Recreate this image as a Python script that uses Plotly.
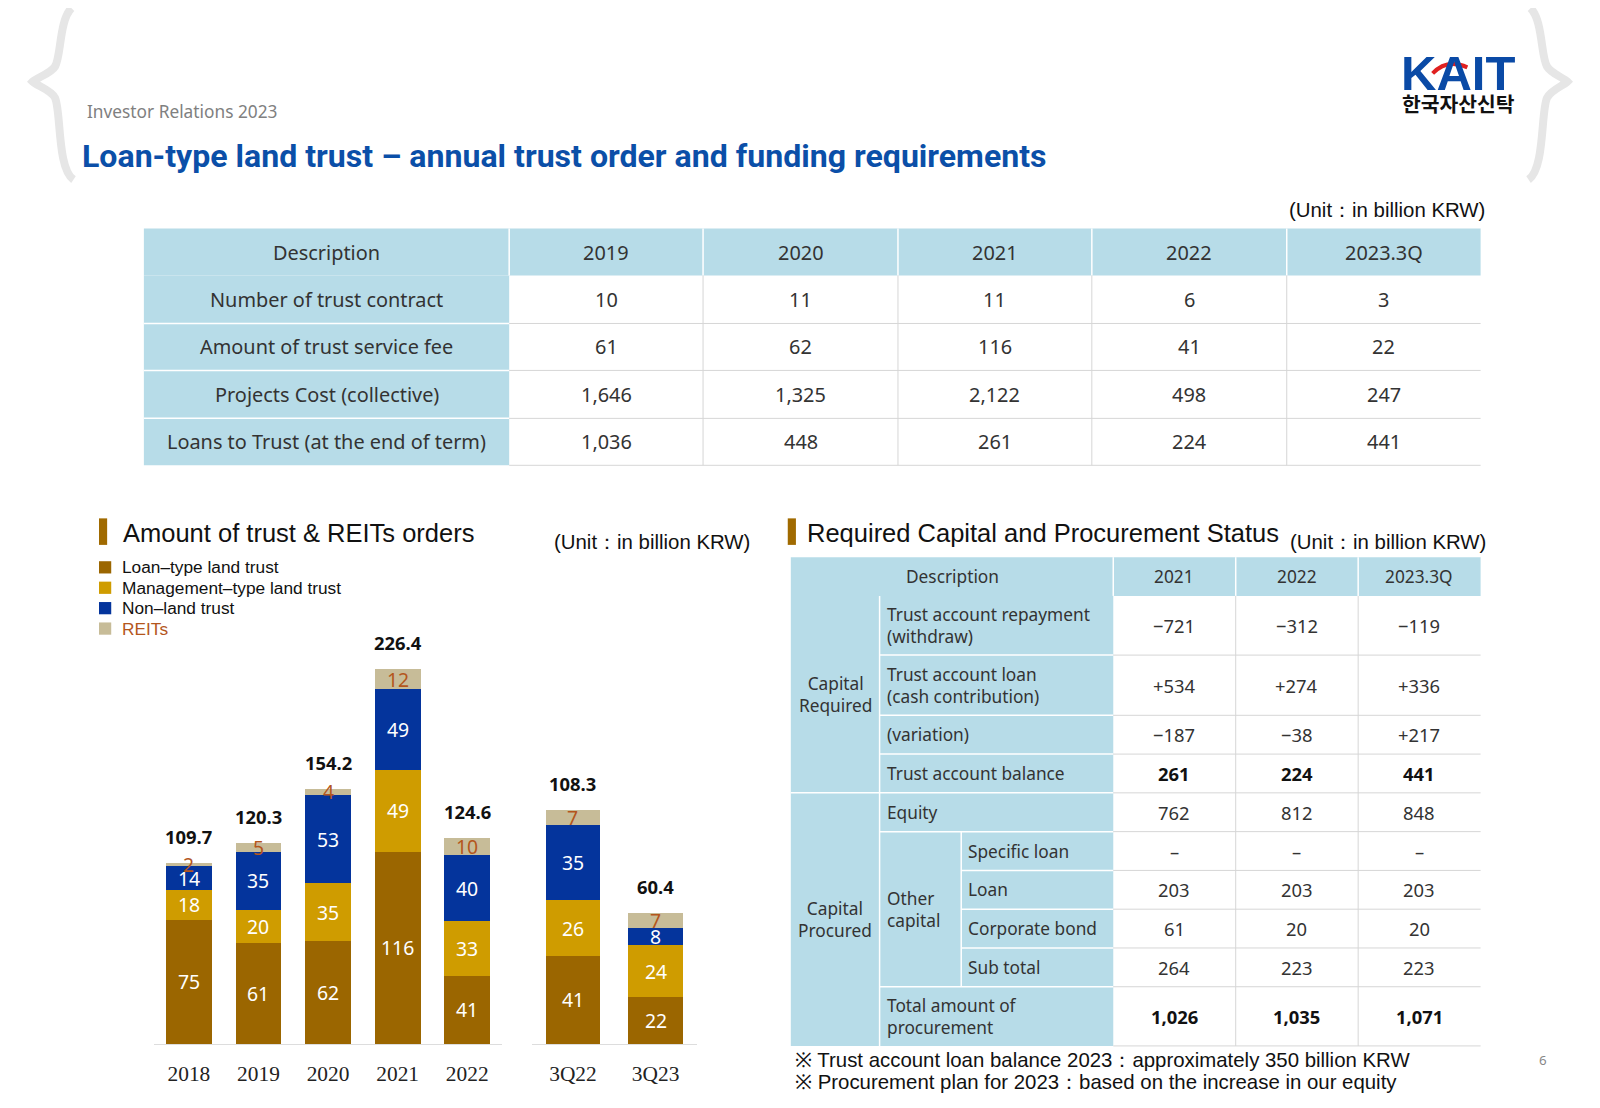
import plotly.graph_objects as go

W, H = 1584, 1092
S = 1600 / 1568.0
def X(px): return (px * S - 8) / W
def Y(py): return 1 - (py * S - 8) / H
def fs(v): return round(v * S, 1)

# ---------------- data ----------------
top_header = ["Description", "2019", "2020", "2021", "2022", "2023.3Q"]
top_rows = ["Number of trust contract", "Amount of trust service fee",
            "Projects Cost (collective)", "Loans to Trust (at the end of term)"]
top_2019 = ["10", "61", "1,646", "1,036"]
top_2020 = ["11", "62", "1,325", "448"]
top_2021 = ["11", "116", "2,122", "261"]
top_2022 = ["6", "41", "498", "224"]
top_2023 = ["3", "22", "247", "441"]

years = ["2018", "2019", "2020", "2021", "2022"]
loan_y = [75, 61, 62, 116, 41]
mgmt_y = [18, 20, 35, 49, 33]
nonland_y = [14, 35, 53, 49, 40]
reits_y = [2, 5, 4, 12, 10]
total_y = ["109.7", "120.3", "154.2", "226.4", "124.6"]

quarters = ["3Q22", "3Q23"]
loan_q = [41, 22]
mgmt_q = [26, 24]
nonland_q = [35, 8]
reits_q = [7, 7]
total_q = ["108.3", "60.4"]

legend_names = ["Loan–type land trust", "Management–type land trust", "Non–land trust", "REITs"]

cap_years = ["2021", "2022", "2023.3Q"]
cap_repay = ["−721", "−312", "−119"]
cap_loan = ["+534", "+274", "+336"]
cap_var = ["−187", "−38", "+217"]
cap_bal = ["261", "224", "441"]
cap_equity = ["762", "812", "848"]
cap_specific = ["–", "–", "–"]
cap_oloan = ["203", "203", "203"]
cap_bond = ["61", "20", "20"]
cap_sub = ["264", "223", "223"]
cap_total = ["1,026", "1,035", "1,071"]

C_LOAN, C_MGMT, C_NON, C_REIT = "#9b6600", "#cf9c00", "#04349c", "#c7bc98"
C_REIT_TXT = "#b4561c"
BLUE_CELL = "#b7dce8"
TXT = "#333333"
GRID = "#d6d6d6"
ARIAL = "Liberation Sans"

fig = go.Figure()
shapes = []
ann = []

def rect(x0, y0, x1, y1, fill):
    shapes.append(dict(type="rect", xref="paper", yref="paper", x0=X(x0), x1=X(x1), y0=Y(y1), y1=Y(y0),
                       fillcolor=fill, line=dict(width=0), layer="below"))
def line(x0, y0, x1, y1, col, w=1):
    shapes.append(dict(type="line", xref="paper", yref="paper", x0=X(x0), x1=X(x1), y0=Y(y0), y1=Y(y1),
                       line=dict(color=col, width=w)))
def txt(xp, yp, s, size=17, color=TXT, xanchor="center", family="Noto Sans", bold=False, yanchor="middle"):
    ann.append(dict(x=X(xp), y=Y(yp), xref="paper", yref="paper", text="<b>%s</b>" % s if bold else s,
                    showarrow=False, xanchor=xanchor, yanchor=yanchor,
                    align="left" if xanchor == "left" else "center",
                    font=dict(family=family, size=fs(size), color=color)))

# ---------------- top table ----------------
tx = [141, 499, 689, 880, 1070, 1261, 1451]
ty = [224, 270, 317, 363, 410, 456]
rect(tx[0], ty[0], tx[6], ty[1], BLUE_CELL)
rect(tx[0], ty[1], tx[1], ty[5], BLUE_CELL)
for c in range(1, 6):
    line(tx[c], ty[0], tx[c], ty[1], "white", 1.5)
for c in range(2, 6):
    line(tx[c], ty[1], tx[c], ty[5], GRID)
for r in range(2, 5):
    line(tx[0], ty[r], tx[1], ty[r], "white", 1.5)
for r in range(2, 6):
    line(tx[1], ty[r], tx[6], ty[r], GRID)
top_cols = [top_2019, top_2020, top_2021, top_2022, top_2023]
for c, h in enumerate(top_header):
    txt((tx[c] + tx[c + 1]) / 2, (ty[0] + ty[1]) / 2, h, 19.5)
for r, lab in enumerate(top_rows):
    ym = (ty[r + 1] + ty[r + 2]) / 2
    txt((tx[0] + tx[1]) / 2, ym, lab, 19.5)
    for c, col in enumerate(top_cols):
        txt((tx[c + 1] + tx[c + 2]) / 2, ym, col[r], 19.5)

# ---------------- bars ----------------
def add_bars(cats, vals, color, xa, ya):
    fig.add_trace(go.Bar(x=cats, y=vals, marker=dict(color=color, line=dict(width=0)),
                         xaxis=xa, yaxis=ya, showlegend=False, hoverinfo="skip"))

colors = [C_LOAN, C_MGMT, C_NON, C_REIT]
for col, vy in zip(colors, [loan_y, mgmt_y, nonland_y, reits_y]):
    add_bars(years, vy, col, "x", "y")
for col, vq in zip(colors, [loan_q, mgmt_q, nonland_q, reits_q]):
    add_bars(quarters, vq, col, "x2", "y2")

def seg_labels(cats, stacks, totals, xr, yr):
    for i, c in enumerate(cats):
        base = 0
        for k, v in enumerate(stacks):
            val = v[i]
            col = C_REIT_TXT if k == 3 else "white"
            ann.append(dict(x=i, y=base + val / 2, xref=xr, yref=yr, text=str(val), showarrow=False,
                            font=dict(family="Noto Sans", size=fs(19), color=col)))
            base += val
        ann.append(dict(x=i, y=base, xref=xr, yref=yr, text="<b>%s</b>" % totals[i], showarrow=False,
                        yanchor="bottom", yshift=12, font=dict(family="Noto Sans", size=fs(18), color="#111")))
seg_labels(years, [loan_y, mgmt_y, nonland_y, reits_y], total_y, "x", "y")
seg_labels(quarters, [loan_q, mgmt_q, nonland_q, reits_q], total_q, "x2", "y2")

# manual legend
for k, (nm, col) in enumerate(zip(legend_names, colors)):
    yc = 556 + 20 * k
    rect(97, yc - 6, 109, yc + 6, col)
    txt(118, yc, nm, 17, color=C_REIT_TXT if k == 3 else "#111", xanchor="left", family=ARIAL)

tickfont = dict(family="Liberation Serif", size=fs(21), color="#222")
fig.update_layout(
    barmode="stack", bargap=0.34,
    xaxis=dict(domain=[X(151), X(492)], anchor="y", type="category", range=[-0.5, len(years) - 0.5],
               showline=True, linecolor="#dddddd", linewidth=1, tickfont=tickfont, ticks="",
               ticklabelstandoff=10, fixedrange=True),
    yaxis=dict(domain=[Y(1023), Y(540)], range=[0, 483 / 1.625], visible=False, fixedrange=True),
    xaxis2=dict(domain=[X(521), X(683)], anchor="y2", type="category", range=[-0.5, len(quarters) - 0.5],
                showline=True, linecolor="#dddddd", linewidth=1, tickfont=tickfont, ticks="",
                ticklabelstandoff=10, fixedrange=True),
    yaxis2=dict(domain=[Y(1023), Y(540)], range=[0, 483 / 2.1], visible=False, fixedrange=True),
    showlegend=False,
)

# ---------------- right table (merged cells) ----------------
cx = [775, 862, 942, 1091, 1211, 1331, 1451]
ry = [546, 584, 642, 701, 739, 777, 815, 853, 891, 929, 967, 1025]
rect(cx[0], ry[0], cx[6], ry[1], BLUE_CELL)
rect(cx[0], ry[1], cx[3], ry[-1], BLUE_CELL)
line(cx[1], ry[1], cx[1], ry[-1], "white", 1.5)
line(cx[0], ry[5], cx[3], ry[5], "white", 1.5)
for r in [2, 3, 4]:
    line(cx[1], ry[r], cx[3], ry[r], "white", 1.5)
line(cx[1], ry[6], cx[3], ry[6], "white", 1.5)
line(cx[2], ry[6], cx[2], ry[10], "white", 1.5)
for r in [7, 8, 9]:
    line(cx[2], ry[r], cx[3], ry[r], "white", 1.5)
line(cx[1], ry[10], cx[3], ry[10], "white", 1.5)
for c in [3, 4, 5]:
    line(cx[c], ry[0], cx[c], ry[1], "white", 1.5)
for r in range(2, 12):
    line(cx[3], ry[r], cx[6], ry[r], GRID)
for c in [4, 5]:
    line(cx[c], ry[1], cx[c], ry[-1], GRID)

txt((cx[0] + cx[3]) / 2, (ry[0] + ry[1]) / 2, "Description", 17)
for j, yv in enumerate(cap_years):
    txt((cx[3 + j] + cx[4 + j]) / 2, (ry[0] + ry[1]) / 2, yv, 17)
txt((cx[0] + cx[1]) / 2, (ry[1] + ry[5]) / 2, "Capital<br>Required", 17)
txt((cx[0] + cx[1]) / 2, (ry[5] + ry[-1]) / 2, "Capital<br>Procured", 17)
txt(cx[1] + 5, (ry[6] + ry[10]) / 2, "Other<br>capital", 17, xanchor="left")
labels_r = [(1, "Trust account repayment<br>(withdraw)", cap_repay, False),
            (1, "Trust account loan<br>(cash contribution)", cap_loan, False),
            (1, "(variation)", cap_var, False),
            (1, "Trust account balance", cap_bal, True),
            (1, "Equity", cap_equity, False),
            (2, "Specific loan", cap_specific, False),
            (2, "Loan", cap_oloan, False),
            (2, "Corporate bond", cap_bond, False),
            (2, "Sub total", cap_sub, False),
            (1, "Total amount of<br>procurement", cap_total, True)]
for i, (col, lab, vals, bold) in enumerate(labels_r):
    ym = (ry[i + 1] + ry[i + 2]) / 2
    txt(cx[col] + 5, ym, lab, 17, xanchor="left")
    for j, v in enumerate(vals):
        txt((cx[3 + j] + cx[4 + j]) / 2, ym, v, 18, color="#111" if bold else TXT, bold=bold)

# ---------------- page text ----------------
txt(83, 109, "Investor Relations 2023", 17, color="#808080", xanchor="left")
txt(78, 153, "<b>Loan-type land trust – annual trust order and funding requirements</b>", 31.5,
    color="#0b4fa8", xanchor="left", family="Roboto")
txt(1457, 206, "(Unit：in billion KRW)", 20, color="#111", xanchor="right", family=ARIAL)
txt(737, 531, "(Unit：in billion KRW)", 20, color="#111", xanchor="right", family=ARIAL)
txt(1458, 531, "(Unit：in billion KRW)", 20, color="#111", xanchor="right", family=ARIAL)
txt(119, 522, "Amount of trust &amp; REITs orders", 25, color="#111", xanchor="left", family=ARIAL)
txt(789, 522, "Required Capital and Procurement Status", 25, color="#111", xanchor="left", family=ARIAL)
rect(97, 508, 105, 534, "#a06a00")
rect(772, 508, 780, 534, "#a06a00")
txt(777, 1039, "※ Trust account loan balance 2023：approximately 350 billion KRW", 20, color="#111",
    xanchor="left", family=ARIAL)
txt(777, 1060, "※ Procurement plan for 2023：based on the increase in our equity", 20, color="#111",
    xanchor="left", family=ARIAL)
txt(1512, 1039, "6", 13, color="#888")
# logo
txt(1429, 72, "<b>KAIT</b>", 48, color="#0a4aa6", family=ARIAL)
txt(1429, 101, "<b>한국자산신탁</b>", 20, color="#111", family="Noto Sans CJK KR")
shapes.append(dict(type="path", xref="paper", yref="paper",
                   path="M %f %f Q %f %f %f %f" % (X(1404), Y(72), X(1418), Y(57), X(1438), Y(66)),
                   line=dict(color="#e02020", width=4)))
# braces
def brace(x_tip, x_end, d):
    p = "M %f %f C %f %f %f %f %f %f C %f %f %f %f %f %f C %f %f %f %f %f %f C %f %f %f %f %f %f" % (
        X(x_end + d * 2), Y(8),
        X(x_end - d * 10), Y(20), X(x_end - d * 8), Y(55), X(x_end - d * 14), Y(65),
        X(x_end - d * 18), Y(72), X(x_tip + d * 4), Y(76), X(x_tip), Y(80),
        X(x_tip + d * 4), Y(84), X(x_end - d * 18), Y(88), X(x_end - d * 14), Y(96),
        X(x_end - d * 8), Y(110), X(x_end - d * 12), Y(165), X(x_end + d * 4), Y(176))
    shapes.append(dict(type="path", xref="paper", yref="paper", path=p, line=dict(color="#e6e6e6", width=8)))
brace(32, 68, 1)
brace(1536, 1502, -1)

fig.update_layout(width=W, height=H, margin=dict(l=0, r=0, t=0, b=0, autoexpand=False),
                  paper_bgcolor="white", plot_bgcolor="white", shapes=shapes, annotations=ann)
fig.write_html("out.html")
